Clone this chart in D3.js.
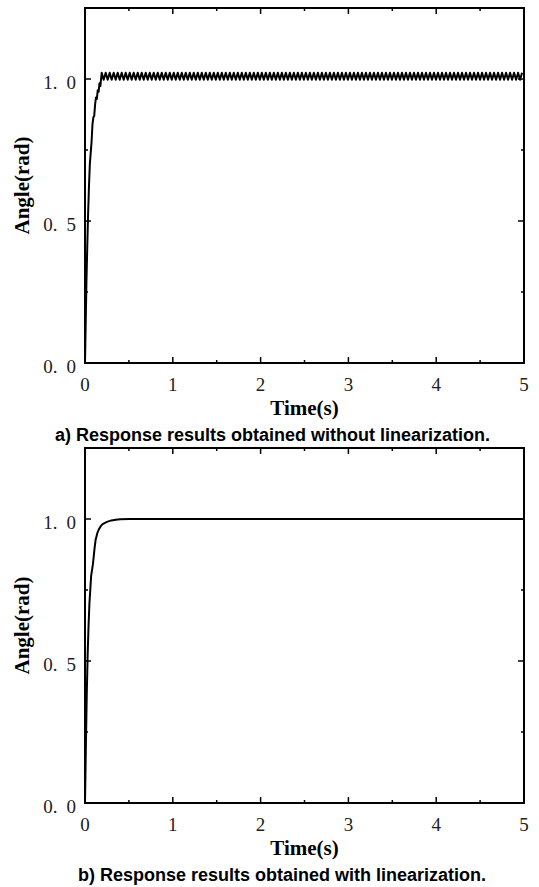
<!DOCTYPE html>
<html>
<head>
<meta charset="utf-8">
<script src="https://cdn.jsdelivr.net/npm/d3@7"></script>
<style>
  body { margin: 0; background: #fff; }
  svg { display: block; }
  .tick-label { font-family: "Liberation Serif", serif; font-size: 19px; fill: #222; }
  .axis-title { font-family: "Liberation Serif", serif; font-size: 21px; font-weight: bold; fill: #000; }
  .caption { font-family: "Liberation Sans", Arial, sans-serif; font-size: 18px; font-weight: bold; fill: #000; }
</style>
</head>
<body>
<svg id="chart" width="539" height="887"></svg>
<script>
// tick values
var timeTicks = [0, 1, 2, 3, 4, 5];
var timeMinor = [0.5, 1.5, 2.5, 3.5, 4.5];
var angleTicks = [0, 0.5, 1.0];
var angleMinor = [0.25, 0.75];

// a) without linearization: initial rise
var riseTimeA = [0, 0.008, 0.016, 0.025, 0.035, 0.045, 0.055, 0.065, 0.075, 0.085, 0.095, 0.105, 0.115, 0.125, 0.135, 0.145, 0.155, 0.165, 0.175];
var riseAngleA = [0, 0.14, 0.28, 0.40, 0.52, 0.62, 0.70, 0.74, 0.78, 0.84, 0.865, 0.87, 0.91, 0.935, 0.93, 0.96, 0.955, 0.985, 0.975];
// a) then a steady ripple, sampled every half period
var rippleStartA = 0.19;
var rippleStepA = 0.0228;
var rippleAngleA = [
  1.022, 0.997, 1.022, 0.997, 1.022, 0.997, 1.022, 0.997, 1.022, 0.997, 1.022, 0.997, 1.022, 0.997, 1.022, 0.997, 1.022, 0.997, 1.022, 0.997,
  1.022, 0.997, 1.022, 0.997, 1.022, 0.997, 1.022, 0.997, 1.022, 0.997, 1.022, 0.997, 1.022, 0.997, 1.022, 0.997, 1.022, 0.997, 1.022, 0.997,
  1.022, 0.997, 1.022, 0.997, 1.022, 0.997, 1.022, 0.997, 1.022, 0.997, 1.022, 0.997, 1.022, 0.997, 1.022, 0.997, 1.022, 0.997, 1.022, 0.997,
  1.022, 0.997, 1.022, 0.997, 1.022, 0.997, 1.022, 0.997, 1.022, 0.997, 1.022, 0.997, 1.022, 0.997, 1.022, 0.997, 1.022, 0.997, 1.022, 0.997,
  1.022, 0.997, 1.022, 0.997, 1.022, 0.997, 1.022, 0.997, 1.022, 0.997, 1.022, 0.997, 1.022, 0.997, 1.022, 0.997, 1.022, 0.997, 1.022, 0.997,
  1.022, 0.997, 1.022, 0.997, 1.022, 0.997, 1.022, 0.997, 1.022, 0.997, 1.022, 0.997, 1.022, 0.997, 1.022, 0.997, 1.022, 0.997, 1.022, 0.997,
  1.022, 0.997, 1.022, 0.997, 1.022, 0.997, 1.022, 0.997, 1.022, 0.997, 1.022, 0.997, 1.022, 0.997, 1.022, 0.997, 1.022, 0.997, 1.022, 0.997,
  1.022, 0.997, 1.022, 0.997, 1.022, 0.997, 1.022, 0.997, 1.022, 0.997, 1.022, 0.997, 1.022, 0.997, 1.022, 0.997, 1.022, 0.997, 1.022, 0.997,
  1.022, 0.997, 1.022, 0.997, 1.022, 0.997, 1.022, 0.997, 1.022, 0.997, 1.022, 0.997, 1.022, 0.997, 1.022, 0.997, 1.022, 0.997, 1.022, 0.997,
  1.022, 0.997, 1.022, 0.997, 1.022, 0.997, 1.022, 0.997, 1.022, 0.997, 1.022, 0.997, 1.022, 0.997, 1.022, 0.997, 1.022, 0.997, 1.022, 0.997,
  1.022, 0.997, 1.022, 0.997, 1.022, 0.997, 1.022, 0.997, 1.022, 0.997, 1.022
];

// b) with linearization
var timeB = [0, 0.01, 0.02, 0.03, 0.04, 0.05, 0.06, 0.07, 0.08, 0.09, 0.1, 0.11, 0.12, 0.14, 0.16, 0.18, 0.2, 0.25, 0.3, 0.35, 0.4, 0.5, 0.6, 5];
var angleB = [0, 0.2, 0.38, 0.52, 0.62, 0.70, 0.75, 0.80, 0.82, 0.84, 0.87, 0.90, 0.925, 0.95, 0.965, 0.975, 0.982, 0.99, 0.995, 0.997, 0.999, 1.0, 1.0, 1.0];

var captionA = "a) Response results obtained without linearization.";
var captionB = "b) Response results obtained with linearization.";

var dataA = riseTimeA.map(function(t, i) { return {t: t, v: riseAngleA[i]}; });
rippleAngleA.forEach(function(v, i) {
  var t = rippleStartA + i * rippleStepA;
  if (t <= 5) dataA.push({t: t, v: v});
});
var dataB = timeB.map(function(t, i) { return {t: t, v: angleB[i]}; });

var svg = d3.select("#chart");
var left = 85, right = 524, plotH = 355;

var x = d3.scaleLinear().domain([0, 5]).range([left, right]);

function drawPanel(top, data, caption, capX) {
  var y = d3.scaleLinear().domain([0, 1.25]).range([top + plotH, top]);
  var g = svg.append("g");
  var bottom = top + plotH;

  // ticks, pointing inward on all four sides
  var tk = g.append("g").attr("stroke", "#000").attr("stroke-width", 1.5);
  function vt(vals, len) {
    vals.forEach(function(d) {
      tk.append("line").attr("x1", x(d)).attr("x2", x(d)).attr("y1", bottom).attr("y2", bottom - len);
      tk.append("line").attr("x1", x(d)).attr("x2", x(d)).attr("y1", top).attr("y2", top + len);
    });
  }
  function ht(vals, len) {
    vals.forEach(function(d) {
      tk.append("line").attr("y1", y(d)).attr("y2", y(d)).attr("x1", left).attr("x2", left + len);
      tk.append("line").attr("y1", y(d)).attr("y2", y(d)).attr("x1", right).attr("x2", right - len);
    });
  }
  vt(timeTicks, 6); vt(timeMinor, 3);
  ht(angleTicks, 6); ht(angleMinor, 3);

  // the curve
  var line = d3.line().x(function(d) { return x(d.t); }).y(function(d) { return y(d.v); });
  g.append("path").datum(data)
    .attr("fill", "none").attr("stroke", "#000").attr("stroke-width", 2)
    .attr("stroke-linejoin", "round")
    .attr("d", line);

  // frame
  g.append("rect").attr("x", left).attr("y", top).attr("width", right - left).attr("height", plotH)
    .attr("fill", "none").attr("stroke", "#000").attr("stroke-width", 2);

  // tick labels
  timeTicks.forEach(function(d) {
    g.append("text").attr("class", "tick-label").attr("x", x(d)).attr("y", bottom + 28)
      .attr("text-anchor", "middle").text(d);
  });
  angleTicks.forEach(function(d) {
    var s = d.toFixed(1).split(".");
    var t = g.append("text").attr("class", "tick-label").attr("x", 76).attr("y", y(d) + 10)
      .attr("text-anchor", "end");
    t.append("tspan").text(s[0] + ".");
    t.append("tspan").attr("dx", 9).text(s[1]);
  });

  // axis titles
  g.append("text").attr("class", "axis-title").attr("x", (left + right) / 2).attr("y", bottom + 52)
    .attr("text-anchor", "middle").text("Time(s)");
  g.append("text").attr("class", "axis-title")
    .attr("transform", "translate(29," + (top + plotH / 2) + ") rotate(-90)")
    .attr("text-anchor", "middle").text("Angle(rad)");

  g.append("text").attr("class", "caption").attr("x", capX).attr("y", bottom + 78)
    .attr("text-anchor", "start").text(caption);
}

drawPanel(8, dataA, captionA, 55);
drawPanel(448, dataB, captionB, 78);
</script>
</body>
</html>
